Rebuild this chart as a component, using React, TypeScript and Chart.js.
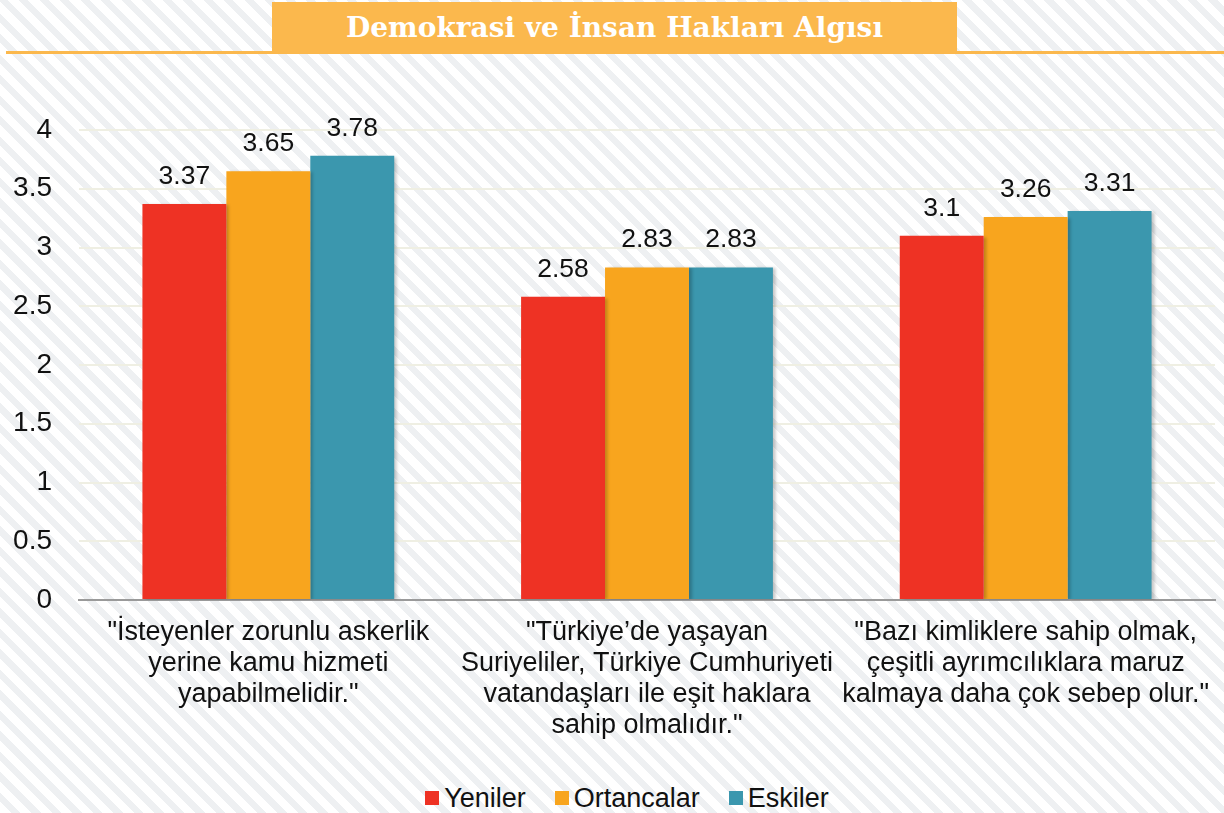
import React, { useEffect, useRef } from "react";
import { Chart, registerables } from "chart.js";

Chart.register(...registerables);

const TITLE = "Demokrasi ve İnsan Hakları Algısı";
const categories: string[][] = [
  ['"İsteyenler zorunlu askerlik', "yerine kamu hizmeti", 'yapabilmelidir."'],
  ['"Türkiye’de yaşayan', "Suriyeliler, Türkiye Cumhuriyeti", "vatandaşları ile eşit haklara", 'sahip olmalıdır."'],
  ['"Bazı kimliklere sahip olmak,', "çeşitli ayrımcılıklara maruz", 'kalmaya daha çok sebep olur."'],
];
const seriesNames = ["Yeniler", "Ortancalar", "Eskiler"];
const yeniler = [3.37, 2.58, 3.1];
const ortancalar = [3.65, 2.83, 3.26];
const eskiler = [3.78, 2.83, 3.31];
const seriesColors = ["#EE3224", "#F8A51E", "#3B97AE"];

const FONT = "'Liberation Sans', Arial, sans-serif";

const shadowPlugin = {
  id: "barShadow",
  beforeDatasetsDraw(chart: any) {
    const ctx = chart.ctx;
    ctx.save();
    ctx.shadowColor = "rgba(0,0,0,0.22)";
    ctx.shadowOffsetX = 3;
    ctx.shadowOffsetY = 1;
    ctx.shadowBlur = 3;
  },
  afterDatasetsDraw(chart: any) {
    chart.ctx.restore();
  },
};

const labelPlugin = {
  id: "valueLabels",
  afterDatasetsDraw(chart: any) {
    const ctx = chart.ctx;
    ctx.save();
    ctx.font = `26.5px ${FONT}`;
    ctx.fillStyle = "#111";
    ctx.textAlign = "center";
    ctx.textBaseline = "alphabetic";
    chart.data.datasets.forEach((ds: any, i: number) => {
      const meta = chart.getDatasetMeta(i);
      meta.data.forEach((el: any, j: number) => {
        ctx.fillText(String(ds.data[j]), el.x, el.y - 20);
      });
    });
    ctx.restore();
  },
};

export default function App() {
  const ref = useRef<HTMLCanvasElement>(null);
  useEffect(() => {
    if (!ref.current) return;
    const chart = new Chart(ref.current, {
      type: "bar",
      data: {
        labels: categories,
        datasets: [yeniler, ortancalar, eskiler].map((d, i) => ({
          label: seriesNames[i],
          data: d,
          backgroundColor: seriesColors[i],
          borderWidth: 0,
          barPercentage: 1,
          categoryPercentage: 0.665,
        })),
      },
      options: {
        animation: false,
        responsive: false,
        maintainAspectRatio: false,
        layout: { padding: { top: 130, right: 9, left: 0, bottom: 0 } },
        plugins: {
          legend: { display: false },
          tooltip: { enabled: false },
          title: { display: false },
        },
        scales: {
          x: {
            grid: { display: false, drawTicks: false },
            border: { display: true, color: "#9a9a9a", width: 2 },
            ticks: {
              font: { family: FONT, size: 27, lineHeight: 1.15 },
              color: "#111",
              padding: 17,
              maxRotation: 0,
              minRotation: 0,
              autoSkip: false,
            },
            afterFit: (s: any) => {
              s.height = 160;
              s.paddingLeft = 0;
              s.paddingRight = 0;
            },
          },
          y: {
            min: 0,
            max: 4,
            grid: { color: "#efefe3", lineWidth: 2, drawTicks: false },
            border: { display: false },
            ticks: {
              stepSize: 0.5,
              font: { family: FONT, size: 28 },
              color: "#111",
              padding: 27,
              callback: (v: any) => String(Number(v)),
            },
            afterFit: (s: any) => {
              s.width = 79;
            },
          },
        },
      },
      plugins: [shadowPlugin, labelPlugin],
    });
    return () => chart.destroy();
  }, []);

  return (
    <div
      style={{
        position: "fixed",
        left: 0,
        top: 0,
        width: 1224,
        height: 813,
        overflow: "hidden",
        background:
          "repeating-linear-gradient(45deg, #ffffff 0px, #ffffff 8px, #eef0f2 8px, #eef0f2 14.5px)",
      }}
    >
      <div
        style={{
          position: "absolute",
          left: 6,
          top: 51,
          width: 1218,
          height: 3,
          background: "#FBB84D",
        }}
      />
      <div
        style={{
          position: "absolute",
          left: 272,
          top: 2,
          width: 685,
          height: 51,
          background: "#FBB84D",
          color: "#fff",
          fontFamily: "'DejaVu Serif', serif",
          fontWeight: "bold",
          fontSize: 28,
          lineHeight: "52px",
          textAlign: "center",
        }}
      >
        {TITLE}
      </div>
      <canvas
        ref={ref}
        width={1224}
        height={760}
        style={{ position: "absolute", left: 0, top: 0, width: 1224, height: 760 }}
      />
      <div
        style={{
          position: "absolute",
          left: 30,
          top: 783,
          width: 1194,
          height: 30,
          display: "flex",
          justifyContent: "center",
          alignItems: "center",
          fontFamily: FONT,
          fontSize: 27,
          color: "#111",
          gap: 29,
        }}
      >
        {seriesNames.map((n, i) => (
          <div key={n} style={{ display: "flex", alignItems: "center" }}>
            <span
              style={{
                display: "inline-block",
                width: 14,
                height: 14,
                background: seriesColors[i],
                marginRight: 5,
              }}
            />
            <span>{n}</span>
          </div>
        ))}
      </div>
    </div>
  );
}
